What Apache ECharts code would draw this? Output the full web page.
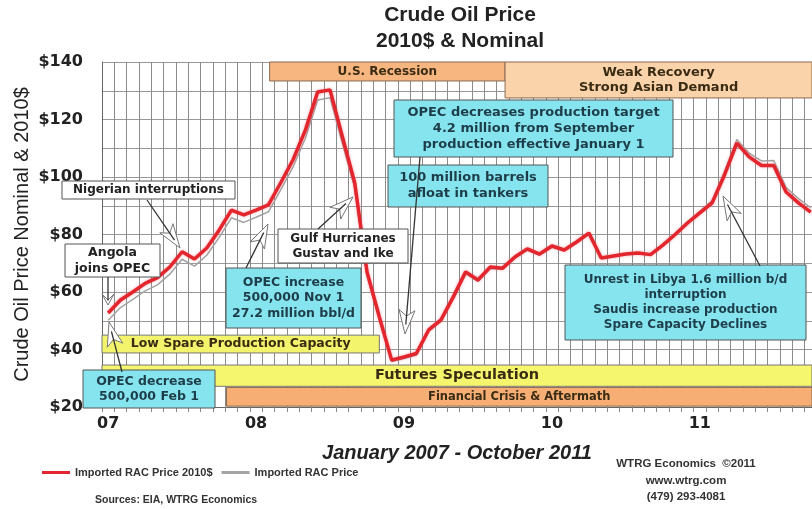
<!DOCTYPE html>
<html>
<head>
<meta charset="utf-8">
<script src="https://cdn.jsdelivr.net/npm/echarts@6/dist/echarts.min.js"></script>
<style>
  html, body { margin: 0; padding: 0; background: #fff; }
  #main { width: 812px; height: 509px; }
</style>
</head>
<body>
<div id="main"></div>
<script>
// year labels shown under January of each year
var yearLabels = ['07', '08', '09', '10', '11'];

// Imported RAC price, monthly Jan 2007 - Oct 2011
var real2010 = [
  52.7, 57.2, 60.0, 63.0, 65.0, 68.7, 74.0, 71.5, 75.3, 81.5, 88.5, 86.8,
  88.5, 90.3, 98.0, 106.0, 116.3, 129.6, 130.3, 114.0, 98.0, 67.0, 51.3, 36.3,
  37.4, 38.6, 46.8, 50.3, 58.3, 67.0, 64.2, 68.7, 68.3, 72.2, 75.0, 73.2,
  76.0, 74.6, 77.4, 80.5, 71.8, 72.5, 73.2, 73.6, 73.0, 76.3, 80.0, 84.0,
  87.5, 91.0, 100.7, 111.8, 107.0, 104.0, 104.0, 94.8, 91.0, 87.8
];
var nominal = [
  50.2, 54.6, 57.4, 60.4, 62.5, 66.2, 71.4, 69.0, 72.8, 78.9, 85.8, 84.2,
  86.0, 87.9, 95.5, 103.5, 113.5, 126.8, 127.6, 111.7, 96.2, 65.6, 50.6, 35.8,
  36.9, 38.1, 46.3, 49.8, 57.7, 66.4, 63.7, 68.2, 67.9, 71.8, 74.6, 72.8,
  75.6, 74.3, 77.1, 80.3, 71.7, 72.4, 73.1, 73.6, 73.1, 76.5, 80.3, 84.4,
  88.1, 91.8, 101.7, 113.0, 108.3, 105.6, 105.7, 96.3, 92.5, 89.3
];

// period bands: [label, from month, to month, low $, high $]
var bandNames = ['U.S. Recession', 'Weak Recovery\nStrong Asian Demand', 'Low Spare Production Capacity',
  'Futures Speculation', 'Financial Crisis & Aftermath'];
var bandMonths = [[13.6, 32.7], [32.7, 57.6], [0, 22.5], [0, 57.6], [10.1, 57.6]];
var bandPrices = [[133.4, 140], [127.5, 140], [38.8, 45], [27.2, 34.6], [20.3, 26.8]];

var notes = [
  'Nigerian interruptions',
  'Angola\njoins OPEC',
  'OPEC decrease\n500,000 Feb 1',
  'OPEC increase\n500,000 Nov 1\n27.2 million bbl/d',
  'Gulf Hurricanes\nGustav and Ike',
  'OPEC decreases production target\n4.2 million from September\nproduction effective January 1',
  '100 million barrels\nafloat in tankers',
  'Unrest in Libya 1.6 million b/d\ninterruption\nSaudis increase production\nSpare Capacity Declines'
];

var CYAN = '#86e4ee';
var bandStyle = [
  { fill: '#f7b57f', size: 12, border: '#8a6a50' },
  { fill: '#fbd3aa', size: 13, border: '#8a6a50' },
  { fill: '#f4f46c', size: 12.5, border: '#777' },
  { fill: '#f6f66e', size: 14.5, border: '#777' },
  { fill: '#f6ae74', size: 11.5, border: '#8a6a50' }
];
// boxes in page pixels: x, y, w, h, fill, font size
var noteBox = [
  [62, 181, 173, 18, '#fff', 12],
  [65, 244, 95, 33, '#fff', 12.5],
  [83, 370, 132, 38, CYAN, 12.5],
  [226, 268, 135, 60, CYAN, 12.5],
  [278, 229, 130, 34, '#fff', 12],
  [394, 100, 279, 57, CYAN, 13],
  [388, 165, 160, 42, CYAN, 13],
  [565, 265, 241, 75, CYAN, 12]
];
var arrowPath = [
  [147, 200, 180, 248, 24, 8],
  [108, 277, 108, 305, 11, 6],
  [122, 372, 109, 322, 24, 8],
  [246, 268, 268, 224, 24, 8],
  [318, 229, 353, 197, 24, 8],
  [420, 157, 405, 334, 24, 8],
  [760, 266, 723, 196, 24, 8]
];

var bandData = bandNames.map(function (n, i) {
  var s = bandStyle[i];
  return [{
    name: n,
    xAxis: bandMonths[i][0], yAxis: bandPrices[i][0],
    itemStyle: { color: s.fill, borderColor: s.border, borderWidth: 1 },
    label: { fontSize: s.size }
  }, { xAxis: bandMonths[i][1], yAxis: bandPrices[i][1] }];
});

var graphics = [];
noteBox.forEach(function (b, i) {
  graphics.push({
    type: 'rect', x: b[0], y: b[1], z: 10,
    shape: { x: 0, y: 0, width: b[2], height: b[3] },
    style: { fill: b[4], stroke: '#555', lineWidth: 1 }
  });
  graphics.push({
    type: 'text', x: b[0] + b[2] / 2, y: b[1] + b[3] / 2, z: 11,
    style: {
      text: notes[i], align: 'center', verticalAlign: 'middle',
      font: 'bold ' + b[5] + 'px "DejaVu Sans"', lineHeight: b[5] + 3,
      fill: b[4] === '#fff' ? '#222' : '#1d3d4a'
    }
  });
});
arrowPath.forEach(function (a) {
  var x1 = a[0], y1 = a[1], x2 = a[2], y2 = a[3], len = a[4], half = a[5];
  var dx = x2 - x1, dy = y2 - y1, d = Math.sqrt(dx * dx + dy * dy);
  var ux = dx / d, uy = dy / d;
  var bx = x2 - ux * len, by = y2 - uy * len;
  graphics.push({
    type: 'polygon', z: 12,
    shape: { points: [[x2, y2], [bx - uy * half, by + ux * half], [bx + ux * 6, by + uy * 6], [bx + uy * half, by - ux * half]] },
    style: { fill: '#fff', stroke: '#777', lineWidth: 1 }
  });
  graphics.push({
    type: 'line', z: 13,
    shape: { x1: x1, y1: y1, x2: x2 - ux * len * 0.4, y2: y2 - uy * len * 0.4 },
    style: { stroke: '#333', lineWidth: 1.3 }
  });
});
// footer texts
var footFont = 'bold 11.5px "Liberation Sans"';
graphics.push({ type: 'text', x: 95, y: 500, style: { text: 'Sources: EIA, WTRG Economics', font: 'bold 10.5px "Liberation Sans"', fill: '#333', verticalAlign: 'middle' } });
graphics.push({ type: 'text', x: 686, y: 464, style: { text: 'WTRG Economics  \u00a92011', font: footFont, fill: '#333', align: 'center', verticalAlign: 'middle' } });
graphics.push({ type: 'text', x: 686, y: 481, style: { text: 'www.wtrg.com', font: footFont, fill: '#333', align: 'center', verticalAlign: 'middle' } });
graphics.push({ type: 'text', x: 686, y: 497, style: { text: '(479) 293-4081', font: footFont, fill: '#333', align: 'center', verticalAlign: 'middle' } });

var chart = echarts.init(document.getElementById('main'), null, { renderer: 'canvas' });
var option = {
  backgroundColor: '#fff',
  animation: false,
  title: {
    text: 'Crude Oil Price\n2010$ & Nominal',
    left: 455, top: -3, textAlign: 'center',
    textStyle: { fontFamily: 'Liberation Sans', fontSize: 21, fontWeight: 'bold', color: '#222', lineHeight: 26 }
  },
  legend: {
    data: [
      { name: 'Imported RAC Price 2010$', icon: 'rect' },
      { name: 'Imported RAC Price', icon: 'rect' }
    ],
    left: 37, top: 462, itemWidth: 28, itemHeight: 3, itemGap: 9,
    textStyle: { fontFamily: 'Liberation Sans', fontSize: 11, fontWeight: 'bold', color: '#333' }
  },
  grid: { left: 102, right: 0, top: 62, bottom: 102 },
  xAxis: {
    type: 'value', min: 0, max: 57.6, interval: 1,
    name: 'January 2007 - October 2011', nameLocation: 'middle', nameGap: 36,
    nameTextStyle: { fontFamily: 'Liberation Sans', fontSize: 20, fontWeight: 'bold', fontStyle: 'italic', color: '#222' },
    axisLine: { lineStyle: { color: '#666' } },
    axisTick: { show: true, length: 5, lineStyle: { color: '#888' } },
    axisLabel: {
      customValues: [0.5, 12.5, 24.5, 36.5, 48.5],
      margin: 9,
      fontFamily: 'DejaVu Sans', fontSize: 16, fontWeight: 'bold', color: '#222',
      formatter: function (v) {
        var k = (v - 0.5) / 12;
        return Math.abs(k - Math.round(k)) < 1e-6 ? yearLabels[Math.round(k)] : '';
      }
    },
    splitLine: { show: true, lineStyle: { color: '#8c8c8c', width: 1 } }
  },
  yAxis: {
    type: 'value', min: 20, max: 140, interval: 10,
    name: 'Crude Oil Price Nominal & 2010$', nameLocation: 'middle', nameGap: 70, nameRotate: 90,
    nameMoveOverlap: false,
    nameTextStyle: { fontFamily: 'Liberation Sans', fontSize: 20, color: '#222' },
    axisLine: { show: true, lineStyle: { color: '#666' } },
    axisTick: { show: false },
    axisLabel: {
      margin: 19, fontFamily: 'DejaVu Sans', fontSize: 16, fontWeight: 'bold', color: '#222',
      formatter: function (v) { return v % 20 === 0 ? '$' + v : ''; }
    },
    splitLine: { lineStyle: { color: '#999', width: 1 } }
  },
  series: [
    {
      name: 'Imported RAC Price', type: 'line', z: 2,
      data: nominal.map(function (v, i) { return [i + 0.5, v]; }),
      symbol: 'none',
      lineStyle: { color: '#a3a3a3', width: 1.5 },
      itemStyle: { color: '#a3a3a3' },
      markArea: {
        silent: true,
        label: {
          show: true, position: 'inside', fontFamily: 'DejaVu Sans', fontWeight: 'bold',
          color: '#3a2c14', lineHeight: 15
        },
        data: bandData
      }
    },
    {
      name: 'Imported RAC Price 2010$', type: 'line', z: 3,
      data: real2010.map(function (v, i) { return [i + 0.5, v]; }),
      symbol: 'none',
      lineStyle: { color: '#e3262e', width: 3.5, shadowColor: 'rgba(235,90,100,0.55)', shadowBlur: 3 },
      itemStyle: { color: '#e3262e' }
    }
  ],
  graphic: graphics
};
chart.setOption(option);
</script>
</body>
</html>
